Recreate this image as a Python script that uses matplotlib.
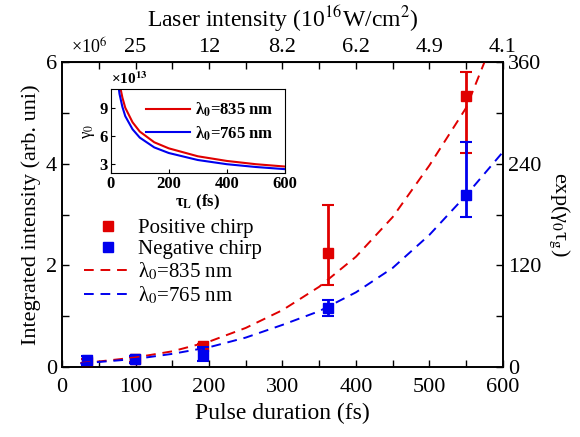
import numpy as np
import matplotlib
matplotlib.use("Agg")
import matplotlib.pyplot as plt
from matplotlib.lines import Line2D

plt.rcParams['font.family'] = ['Liberation Serif', 'DejaVu Serif']
plt.rcParams['mathtext.fontset'] = 'stix'

# ---- measured points (pulse duration in fs, intensity in arb. units) ----
tau_pos = [34, 99, 192, 362, 550]
int_pos = [0.10e6, 0.15e6, 0.41e6, 2.24e6, 5.34e6]
err_pos_lo = [0.05e6, 0.05e6, 0.05e6, 0.63e6, 1.13e6]
err_pos_hi = [0.05e6, 0.05e6, 0.05e6, 0.95e6, 0.47e6]

tau_neg = [34, 99, 192, 362, 550]
int_neg = [0.13e6, 0.15e6, 0.24e6, 1.16e6, 3.39e6]
err_neg_lo = [0.09e6, 0.07e6, 0.12e6, 0.16e6, 0.44e6]
err_neg_hi = [0.09e6, 0.07e6, 0.15e6, 0.16e6, 1.04e6]

# ---- model curves exp(gamma0 * tau_g) (right axis) ----
tau_fit = [25, 50, 100, 150, 200, 250, 300, 350, 400, 450, 500, 550, 575, 590]
exp_835 = [4.8, 6.6, 11.4, 18.6, 30.0, 46.2, 67.2, 94.8, 130.2, 177.0, 238.0, 306.0, 360.0, 396.0]
tau_fit_b = [25, 50, 100, 150, 200, 250, 300, 350, 400, 450, 500, 550, 600]
exp_765 = [4.2, 6.0, 9.6, 15.6, 23.4, 34.8, 49.8, 66.0, 88.2, 117.0, 156.0, 202.8, 253.8]

# ---- inset: gamma0 vs tau_L (units of 1e13) ----
tau_in = [28, 30, 40, 50, 75, 100, 150, 200, 300, 400, 500, 600]
gam_835 = [12.1, 11.6, 10.1, 9.0, 7.45, 6.45, 5.3, 4.65, 3.8, 3.3, 2.95, 2.7]
gam_765 = [11.0, 10.5, 9.1, 8.1, 6.7, 5.8, 4.75, 4.15, 3.4, 2.95, 2.65, 2.42]

top_ticks = [100, 200, 300, 400, 500, 600]
top_labels = ['25', '12', '8.2', '6.2', '4.9', '4.1']

red = '#e00000'
blue = '#0000ee'
dash = (0, (5, 3.5))

fig = plt.figure(figsize=(5.8, 4.37), dpi=100)
ax = fig.add_axes([0.107, 0.160, 0.760, 0.698])

ax.errorbar(tau_pos, int_pos, yerr=[err_pos_lo, err_pos_hi], fmt='s', color=red,
            ms=7, elinewidth=2, capsize=4, capthick=1.5, zorder=3)
ax.errorbar(tau_neg, int_neg, yerr=[err_neg_lo, err_neg_hi], fmt='s', color=blue,
            ms=7, elinewidth=2, capsize=4, capthick=1.5, zorder=4)

ax.set_xlim(0, 600)
ax.set_ylim(0, 6e6)
ax.set_xticks([0, 100, 200, 300, 400, 500, 600])
ax.set_xticks(np.arange(50, 600, 100), minor=True)
ax.set_yticks([0, 2e6, 4e6, 6e6], ['0', '2', '4', '6'])
ax.set_yticks([1e6, 3e6, 5e6], minor=True)
ax.tick_params(which='both', direction='in', length=5, width=1, labelsize=16)
ax.tick_params(axis='x', pad=8)
ax.set_xlabel('Pulse duration (fs)', fontsize=17, labelpad=4)
ax.set_ylabel('Integrated intensity (arb. uni)', fontsize=16, labelpad=4)
ax.text(0.02, 1.015, '×10$^6$', transform=ax.transAxes, fontsize=13,
        ha='left', va='bottom')

top = ax.secondary_xaxis('top')
top.set_xticks(top_ticks, top_labels)
top.set_xticks(np.arange(50, 600, 100), minor=True)
top.tick_params(which='both', direction='in', length=5, width=1, labelsize=16)
top.set_xlabel('Laser intensity (10$^{16}$W/cm$^{2}$)', fontsize=17, labelpad=8)

ax2 = ax.twinx()
ax2.plot(tau_fit, exp_835, color=red, lw=1.4, ls=dash)
ax2.plot(tau_fit_b, exp_765, color=blue, lw=1.4, ls=dash)
ax2.set_ylim(0, 360)
ax2.set_yticks([0, 120, 240, 360])
ax2.set_yticks([60, 180, 300], minor=True)
ax2.tick_params(which='both', direction='in', length=5, width=1, labelsize=16)
ax2.set_ylabel('exp(γ$_0$τ$_\\mathrm{g}$)', fontsize=16, rotation=270, labelpad=22)

handles = [
    Line2D([], [], color=red, marker='s', ls='none', ms=7),
    Line2D([], [], color=blue, marker='s', ls='none', ms=7),
    Line2D([], [], color=red, lw=1.4, ls=dash),
    Line2D([], [], color=blue, lw=1.4, ls=dash),
]
labels = ['Positive chirp', 'Negative chirp', 'λ$_0$=835 nm', 'λ$_0$=765 nm']
ax2.legend(handles, labels, loc='upper left', bbox_to_anchor=(0.03, 0.515),
           frameon=False, fontsize=15, handlelength=2.3, handletextpad=0.3,
           labelspacing=0.08, borderaxespad=0)

for a in (ax, ax2):
    for s in a.spines.values():
        s.set_linewidth(1.2)

# ---- inset ----
ins = fig.add_axes([0.191, 0.604, 0.300, 0.192])
ins.plot(tau_in, gam_835, color=red, lw=1.5, label='λ$_\\mathbf{0}$=835 nm')
ins.plot(tau_in, gam_765, color=blue, lw=1.5, label='λ$_\\mathbf{0}$=765 nm')
ins.set_xlim(0, 600)
ins.set_ylim(2, 11)
ins.set_xticks([0, 200, 400, 600])
ins.set_yticks([3, 6, 9])
ins.tick_params(direction='in', length=3, labelsize=12, pad=2)
for lbl in ins.get_xticklabels() + ins.get_yticklabels():
    lbl.set_fontweight('bold')
ins.set_xlabel('τ$_\\mathbf{L}$ (fs)', fontsize=12, fontweight='bold', labelpad=1)
ins.set_ylabel('γ$_0$', fontsize=12, labelpad=2)
ins.text(0.0, 1.02, '×10$^{\\mathbf{13}}$', transform=ins.transAxes,
         fontsize=11, fontweight='bold', ha='left', va='bottom')
ins.legend(loc='upper right', frameon=False, handlelength=2.6,
           handletextpad=0.3, labelspacing=0.3, borderaxespad=0.3,
           prop={'weight': 'bold', 'size': 12})

fig.savefig('out.png', dpi=100)
